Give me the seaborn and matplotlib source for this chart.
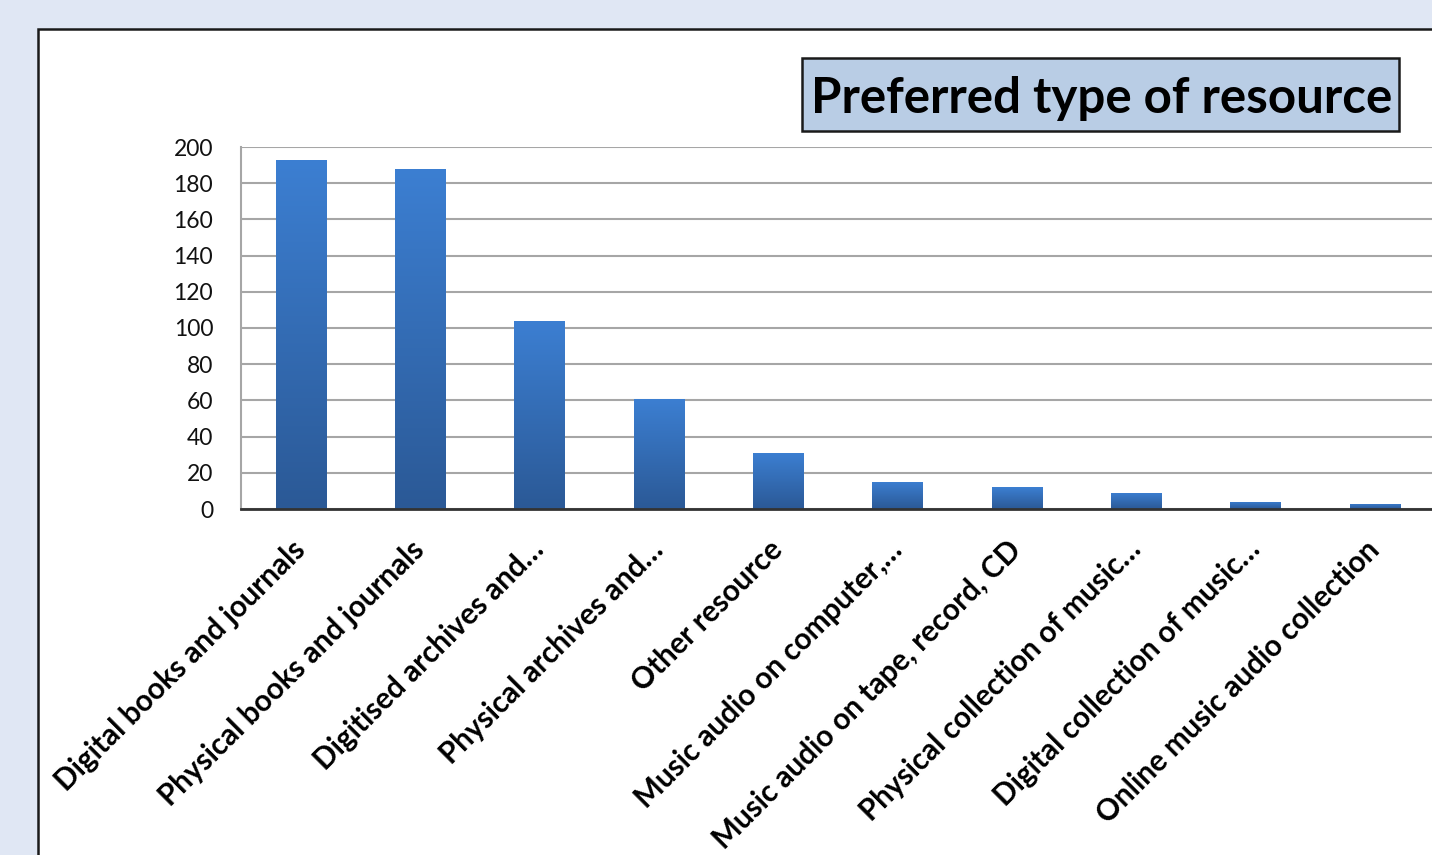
import numpy as np
import pandas as pd
import matplotlib
matplotlib.use("Agg")
import matplotlib.pyplot as plt
from matplotlib.patches import Rectangle
from matplotlib.colors import LinearSegmentedColormap
import seaborn as sns

categories = [
    "Digital books and journals",
    "Physical books and journals",
    "Digitised archives and…",
    "Physical archives and…",
    "Other resource",
    "Music audio on computer,…",
    "Music audio on tape, record, CD",
    "Physical collection of music…",
    "Digital collection of music…",
    "Online music audio collection",
]
values = [193, 188, 104, 61, 31, 15, 12, 9, 4, 3]
yticks = [0, 20, 40, 60, 80, 100, 120, 140, 160, 180, 200]
title = "Preferred type of resource"

sns.set_theme(style="white")
plt.rcParams['font.family'] = ['Lato', 'DejaVu Sans']

W, H = 1432, 855
fig = plt.figure(figsize=(W / 100, H / 100), dpi=100)
fig.patch.set_facecolor("#E0E7F4")

# white chart panel
fig.add_artist(Rectangle((38 / W, -0.2), 2, (H - 29) / H + 0.2, transform=fig.transFigure,
                         facecolor="white", edgecolor="#1a1a1a", lw=1.8, zorder=0))

ax = fig.add_axes([241 / W, 1 - 509 / H, (W - 241) / W, (509 - 147) / H])
ax.set_facecolor("none")
df = pd.DataFrame({"cat": categories, "val": values})
sns.barplot(data=df, x="cat", y="val", ax=ax, color="#3A78C6", width=0.42,
            saturation=1, zorder=3)

cmap = LinearSegmentedColormap.from_list("g", ["#2B5996", "#3C7FD2"])
grad = np.linspace(0, 1, 256).reshape(-1, 1)
for p in ax.patches:
    x0, y0 = p.get_x(), p.get_y()
    w, h = p.get_width(), p.get_height()
    im = ax.imshow(grad, cmap=cmap, aspect="auto", origin="lower",
                   extent=[x0, x0 + w, y0, y0 + h], zorder=4)
    im.set_clip_path(p)
    p.set_edgecolor("none")

ax.set_xlim(-0.5, 9.48)
ax.set_ylim(0, 200)
ax.set_yticks(yticks)
ax.set_yticklabels([str(t) for t in yticks], fontsize=16.5, color="#111111")
ax.yaxis.grid(True, color="#A6A6A6", lw=1.5, zorder=1)
ax.set_axisbelow(True)
ax.set_xlabel("")
ax.set_ylabel("")
for s in ["top", "right"]:
    ax.spines[s].set_visible(False)
ax.spines["left"].set_color("#A6A6A6")
ax.spines["left"].set_linewidth(1.5)
ax.spines["bottom"].set_color("#333333")
ax.spines["bottom"].set_linewidth(2)
ax.spines["bottom"].set_zorder(6)
ax.tick_params(axis="y", length=0, pad=20)
ax.tick_params(axis="x", length=0, pad=26)
ax.set_xticks(range(len(categories)))
ax.set_xticklabels(categories, rotation=45, ha="right", va="center",
                   rotation_mode="anchor", fontsize=21.3, fontweight="bold", color="black")
ax.set_xlim(-0.5, 9.48)

# title box
fig.add_artist(Rectangle((802 / W, 1 - 131 / H), (1399 - 802) / W, (131 - 58) / H,
                         transform=fig.transFigure, facecolor="#B9CDE5",
                         edgecolor="#1a1a1a", lw=1.8, zorder=5))
fig.text((802 + 1399) / 2 / W + 0.0005, 1 - 98 / H, title, ha="center", va="center",
         fontsize=35.5, fontweight="bold", color="black", zorder=6)

fig.savefig("out.png", dpi=100, facecolor=fig.get_facecolor())
